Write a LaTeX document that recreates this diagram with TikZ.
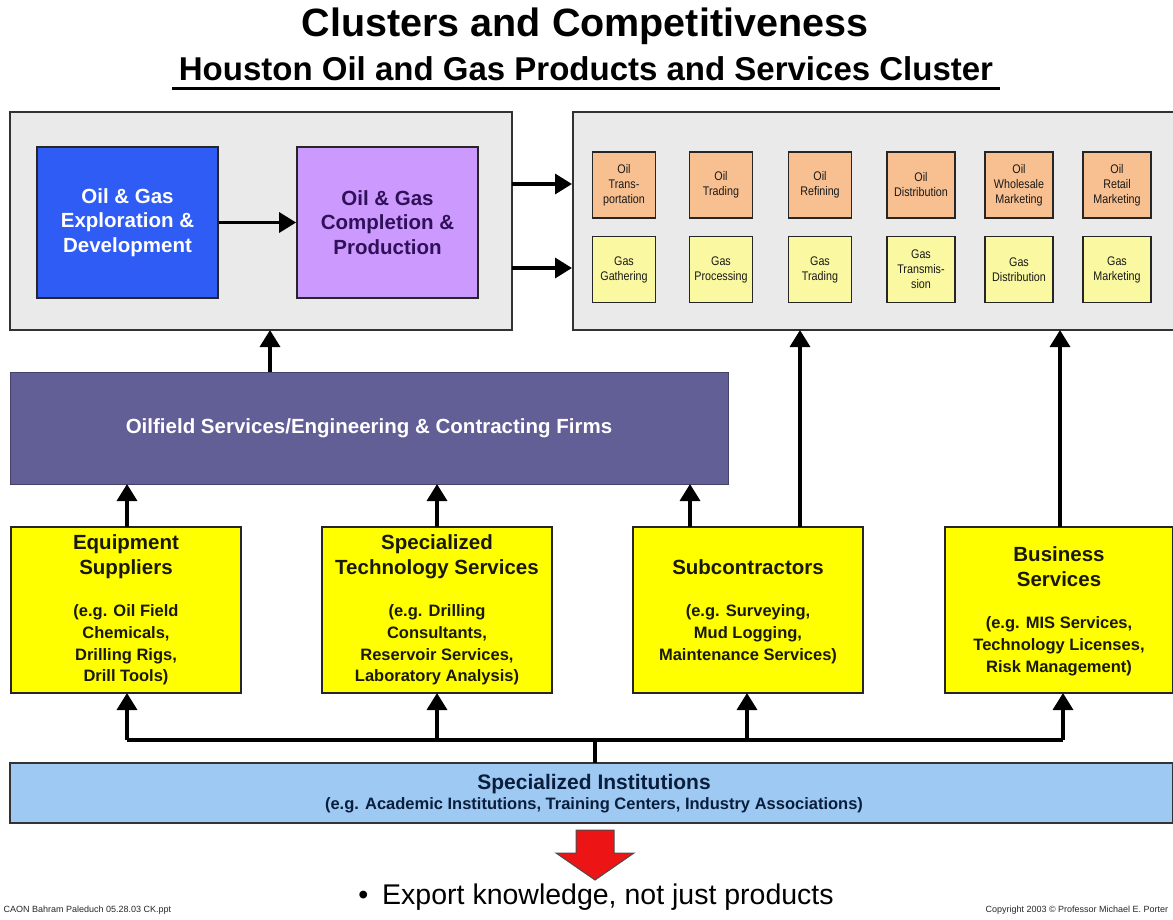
\documentclass[tikz,border=0pt]{standalone}
\usepackage{fontspec}
\setmainfont{Liberation Sans}
\newfontfamily\narrowfont[FakeStretch=0.86]{Liberation Sans}
\usetikzlibrary{arrows.meta}
\definecolor{grpfill}{RGB}{234,234,234}
\definecolor{grpline}{RGB}{50,50,50}
\definecolor{expblue}{RGB}{46,92,244}
\definecolor{comppurple}{RGB}{204,153,255}
\definecolor{comptext}{RGB}{48,16,88}
\definecolor{slate}{RGB}{98,94,150}
\definecolor{instblue}{RGB}{157,201,242}
\definecolor{insttext}{RGB}{10,30,60}
\definecolor{peach}{RGB}{248,192,144}
\definecolor{paleyellow}{RGB}{250,248,160}
\definecolor{boxyellow}{RGB}{255,255,0}
\definecolor{arrowred}{RGB}{236,20,20}
\definecolor{yeltext}{RGB}{25,25,5}
\tikzset{
  grpbox/.style={draw=grpline, line width=2.2pt, fill=grpfill},
  bigbox/.style={draw=black!85, line width=1.8pt, minimum width=181pt, minimum height=151pt, align=center, font=\bfseries\fontsize{20.5}{24.5}\selectfont},
  smallbox/.style={draw=black!85, line width=1.6pt, minimum width=63pt, minimum height=66pt, align=center, inner sep=0pt, text=black!90, font=\narrowfont\fontsize{12.5}{15}\selectfont},
  oilbox/.style={smallbox, fill=peach},
  gasbox/.style={smallbox, fill=paleyellow},
  yelbox/.style={draw=black!85, line width=1.6pt, fill=boxyellow, minimum width=230pt, minimum height=166pt},
  ytitle/.style={align=center, text=yeltext, font=\bfseries\fontsize{20.5}{25}\selectfont},
  yex/.style={align=center, text=yeltext, font=\bfseries\fontsize{16.5}{21.8}\selectfont},
  arr/.style={line width=3.4pt, -{Triangle[width=20pt,length=17pt]}},
  ln/.style={line width=3.4pt},
  foot/.style={anchor=west, text=black!85, font=\fontsize{9}{10}\selectfont},
}
\begin{document}
\begin{tikzpicture}[x=1pt,y=-1pt]
\useasboundingbox (0,0) rectangle (1173,919);
% titles
\node (title) at (585,26) {\bfseries\fontsize{39.5}{44}\selectfont Clusters and Competitiveness};
\node (subtitle) at (586,69) {\bfseries\fontsize{33}{38}\selectfont Houston Oil and Gas Products and Services Cluster};
\coordinate (ulL) at (172,88);
\coordinate (ulR) at (1000,88);
\draw[line width=3pt] (ulL) -- (ulR);
% group boxes
\node[grpbox, minimum width=502pt, minimum height=218pt, inner sep=0pt] (leftgrp) at (261,221) {};
\node[grpbox, minimum width=610pt, minimum height=218pt, inner sep=0pt, anchor=west] (rightgrp) at (572,221) {};
% big boxes
\node[bigbox, fill=expblue, text=white] (explore) at (127.5,222.5) {Oil \& Gas\\Exploration \&\\Development};
\node[bigbox, fill=comppurple, text=comptext] (complete) at (387.5,222.5) {Oil \& Gas\\Completion \&\\Production};
\draw[arr] (explore.east) -- (complete.west);
\coordinate (lg1) at (512,184);
\coordinate (rg1) at (572,184);
\coordinate (lg2) at (512,268);
\coordinate (rg2) at (572,268);
\draw[arr] (lg1) -- (rg1);
\draw[arr] (lg2) -- (rg2);
% small boxes
\node[oilbox] (o1) at (624,185) {Oil\\Trans-\\portation};
\node[oilbox] (o2) at (721,185) {Oil\\Trading};
\node[oilbox] (o3) at (820,185) {Oil\\Refining};
\node[oilbox, minimum width=68pt] (o4) at (921,185) {Oil\\Distribution};
\node[oilbox, minimum width=68pt] (o5) at (1019,185) {Oil\\Wholesale\\Marketing};
\node[oilbox, minimum width=68pt] (o6) at (1117,185) {Oil\\Retail\\Marketing};
\node[gasbox] (g1) at (624,269.5) {Gas\\Gathering};
\node[gasbox] (g2) at (721,269.5) {Gas\\Processing};
\node[gasbox] (g3) at (820,269.5) {Gas\\Trading};
\node[gasbox, minimum width=68pt] (g4) at (921,269.5) {Gas\\Transmis-\\sion};
\node[gasbox, minimum width=68pt] (g5) at (1019,269.5) {Gas\\Distribution};
\node[gasbox, minimum width=68pt] (g6) at (1117,269.5) {Gas\\Marketing};
% oilfield services bar
\node[fill=slate, draw=slate!70!black, line width=1pt, minimum width=718pt, minimum height=112pt, text=white, font=\bfseries\fontsize{20.5}{24}\selectfont] (ofs) at (369,428) {Oilfield Services/Engineering \& Contracting Firms};
\coordinate (ofsTop) at (270,372);
\coordinate (lgBot) at (270,330);
\draw[arr] (ofsTop) -- (lgBot);
% yellow boxes
\node[yelbox] (equip) at (126,610) {};
\node[yelbox] (spec) at (437,610) {};
\node[yelbox] (sub) at (748,610) {};
\node[yelbox, minimum width=228pt] (bus) at (1059,610) {};
\node[ytitle] (equipT) at (126,557) {Equipment\\Suppliers};
\node[yex] (equipE) at (126,645) {(e.g. Oil Field\\Chemicals,\\Drilling Rigs,\\Drill Tools)};
\node[ytitle] (specT) at (437,557) {Specialized\\Technology Services};
\node[yex] (specE) at (437,645) {(e.g. Drilling\\Consultants,\\Reservoir Services,\\Laboratory Analysis)};
\node[ytitle] (subT) at (748,567) {Subcontractors};
\node[yex] (subE) at (748,634) {(e.g. Surveying,\\Mud Logging,\\Maintenance Services)};
\node[ytitle] (busT) at (1059,567) {Business\\Services};
\node[yex] (busE) at (1059,646) {(e.g. MIS Services,\\Technology Licenses,\\Risk Management)};
% arrows yellow -> ofs
\coordinate (eqTop) at (127,527); \coordinate (ofsB1) at (127,484);
\coordinate (spTop) at (437,527); \coordinate (ofsB2) at (437,484);
\coordinate (suTop1) at (690,527); \coordinate (ofsB3) at (690,484);
\draw[arr] (eqTop) -- (ofsB1);
\draw[arr] (spTop) -- (ofsB2);
\draw[arr] (suTop1) -- (ofsB3);
\coordinate (suTop2) at (800,527); \coordinate (rgB1) at (800,330);
\coordinate (buTop) at (1060,527); \coordinate (rgB2) at (1060,330);
\draw[arr] (suTop2) -- (rgB1);
\draw[arr] (buTop) -- (rgB2);
% institutions
\node[fill=instblue, draw=black!80, line width=1.6pt, minimum width=1163pt, minimum height=60pt, inner sep=0pt] (inst) at (591.5,793) {};
\node[text=insttext, font=\bfseries\fontsize{21}{24}\selectfont] (instT) at (594,784) {Specialized Institutions};
\node[text=insttext, font=\bfseries\fontsize{16.5}{19}\selectfont] (instE) at (594,805) {(e.g. Academic Institutions, Training Centers, Industry Associations)};
% distribution bus
\coordinate (busL) at (127,740);
\coordinate (busR) at (1063,740);
\coordinate (busM) at (595,740);
\coordinate (instTop) at (595,763);
\draw[ln] (busL) -- (busR);
\draw[ln] (busM) -- (instTop);
\coordinate (b1) at (127,740); \coordinate (e1) at (127,693);
\coordinate (b2) at (437,740); \coordinate (e2) at (437,693);
\coordinate (b3) at (747,740); \coordinate (e3) at (747,693);
\coordinate (b4) at (1063,740); \coordinate (e4) at (1063,693);
\draw[arr] (b1) -- (e1);
\draw[arr] (b2) -- (e2);
\draw[arr] (b3) -- (e3);
\draw[arr] (b4) -- (e4);
% red arrow
\draw[fill=arrowred, draw=black!70, line width=1pt] (576,830) -- (614,830) -- (614,853) -- (634,853) -- (595,880) -- (556,853) -- (576,853) -- cycle;
% export text
\node (export) at (596,897) {\fontsize{28.5}{32}\selectfont \textbullet\hspace{14pt}Export knowledge, not just products};
% footers
\node[foot] (footL) at (0,910) {CAON Bahram Paleduch 05.28.03 CK.ppt};
\node[foot] (footR) at (982,910) {Copyright 2003 \textcopyright\ Professor Michael E. Porter};
\end{tikzpicture}
\end{document}
